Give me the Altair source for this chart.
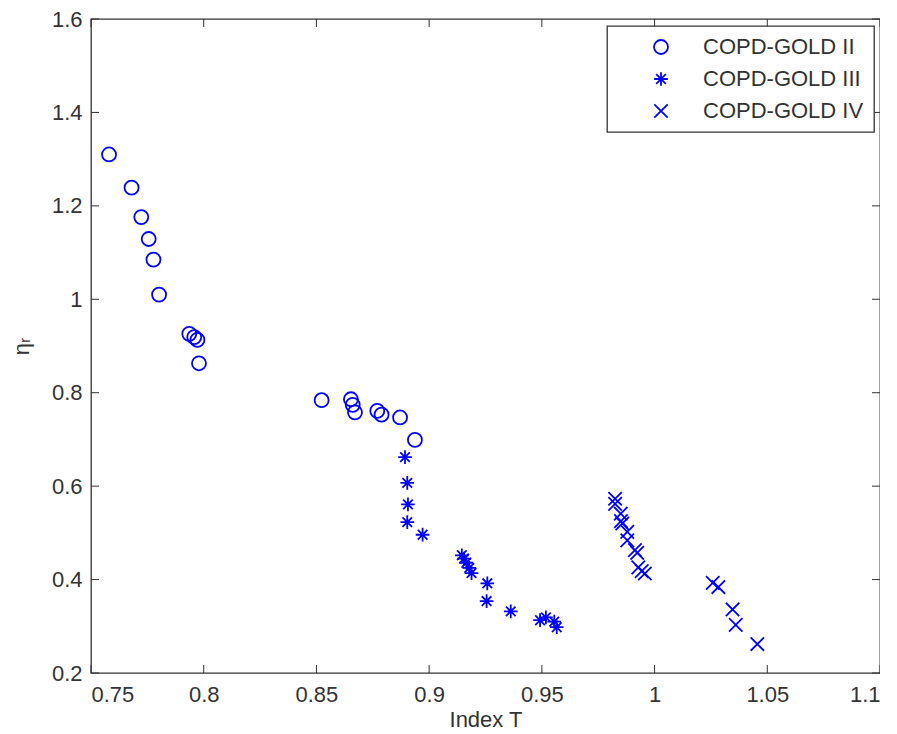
import altair as alt
import pandas as pd

groups = ["COPD-GOLD II", "COPD-GOLD III", "COPD-GOLD IV"]

ii_x = [0.758, 0.768, 0.7723, 0.7756, 0.7777, 0.7802, 0.7936, 0.7958, 0.7972, 0.7979,
        0.8523, 0.8653, 0.8661, 0.8671, 0.877, 0.8789, 0.8871, 0.8937]
ii_y = [1.310, 1.239, 1.176, 1.129, 1.085, 1.010, 0.926, 0.919, 0.913, 0.863,
        0.784, 0.786, 0.774, 0.758, 0.761, 0.753, 0.747, 0.699]

iii_x = [0.8893, 0.8903, 0.8906, 0.8903, 0.8971, 0.9145, 0.9155, 0.9165, 0.9178, 0.9188,
         0.9258, 0.9255, 0.9362, 0.9492, 0.9518, 0.9555, 0.9566]
iii_y = [0.662, 0.607, 0.561, 0.523, 0.496, 0.452, 0.445, 0.436, 0.425, 0.414,
         0.392, 0.354, 0.332, 0.313, 0.319, 0.310, 0.298]

iv_x = [0.9825, 0.9825, 0.985, 0.9851, 0.9857, 0.9879, 0.9879, 0.9913, 0.9923, 0.9928,
        0.9943, 0.9957, 1.0258, 1.0283, 1.0346, 1.036, 1.0456]
iv_y = [0.573, 0.562, 0.541, 0.525, 0.520, 0.502, 0.484, 0.463, 0.457, 0.426,
        0.418, 0.413, 0.393, 0.384, 0.336, 0.303, 0.262]

x_ticks = [0.75, 0.8, 0.85, 0.9, 0.95, 1.0, 1.05, 1.1]
y_ticks = [0.2, 0.4, 0.6, 0.8, 1.0, 1.2, 1.4, 1.6]

rows = []
for g, xs_, ys_ in zip(groups, [ii_x, iii_x, iv_x], [ii_y, iii_y, iv_y]):
    for a, b in zip(xs_, ys_):
        rows.append({"T": a, "eta": b, "group": g})
df = pd.DataFrame(rows)

W, H = 789, 654
TL = 8
AX = "#333333"
BLUE = "#0000ff"
FONT = "Liberation Sans"

xs = alt.Scale(domain=[0.75, 1.1], nice=False, zero=False)
ys = alt.Scale(domain=[0.2, 1.6], nice=False, zero=False)

STAR = "M-1,0L1,0M0,-1L0,1M-0.7,-0.7L0.7,0.7M-0.7,0.7L0.7,-0.7"
XMARK = "M-1,-1L1,1M-1,1L1,-1"

leg = alt.Legend(title=None, orient="none", legendX=516, legendY=7, padding=10,
                 rowPadding=10, symbolOffset=33, labelOffset=31, labelFontSize=22,
                 labelFont=FONT, labelColor=AX, labelLimit=400, strokeColor=AX,
                 fillColor="white", symbolStrokeColor=BLUE, symbolStrokeWidth=1.8)

points = alt.Chart(df).mark_point(filled=False, color=BLUE, strokeWidth=1.8, opacity=1).encode(
    x=alt.X("T:Q", scale=xs, axis=alt.Axis(values=x_ticks, title="Index T", format="~g",
                                            labelPadding=11, titlePadding=4)),
    y=alt.Y("eta:Q", scale=ys, axis=alt.Axis(values=y_ticks, title="ηᵣ", format="~g",
                                              labelPadding=9, titlePadding=18)),
    shape=alt.Shape("group:N", scale=alt.Scale(domain=groups, range=["circle", STAR, XMARK]),
                    legend=leg),
    size=alt.Size("group:N", scale=alt.Scale(domain=groups, range=[196, 180, 100]), legend=leg),
)

xt = pd.DataFrame({"t": x_ticks})
yt = pd.DataFrame({"t": y_ticks})
rule = dict(color=AX, strokeWidth=1)

xb = alt.Chart(xt).mark_rule(**rule).encode(x=alt.X("t:Q", scale=xs),
                                             y=alt.value(H), y2=alt.value(H - TL))
xtop = alt.Chart(xt).mark_rule(**rule).encode(x=alt.X("t:Q", scale=xs),
                                               y=alt.value(0), y2=alt.value(TL))
yl = alt.Chart(yt).mark_rule(**rule).encode(y=alt.Y("t:Q", scale=ys),
                                             x=alt.value(0), x2=alt.value(TL))
yr = alt.Chart(yt).mark_rule(**rule).encode(y=alt.Y("t:Q", scale=ys),
                                             x=alt.value(W), x2=alt.value(W - TL))

chart = alt.layer(points, xb, xtop, yl, yr).properties(
    width=W, height=H,
    autosize=alt.AutoSizeParams(type="none"),
    padding={"left": 83, "top": 11, "right": 0, "bottom": 60},
).configure_view(stroke=AX, strokeWidth=1.3).configure_axis(
    domain=False, ticks=False, tickSize=0, grid=False, labelFont=FONT, labelFontSize=22,
    labelColor=AX, titleFont=FONT, titleFontSize=22, titleFontWeight="normal",
    titleColor=AX, labelOverlap=False, labelBound=False,
).configure_legend(strokeWidth=1.3)

chart.save("out.html", embed_options={"renderer": "svg", "actions": False})
